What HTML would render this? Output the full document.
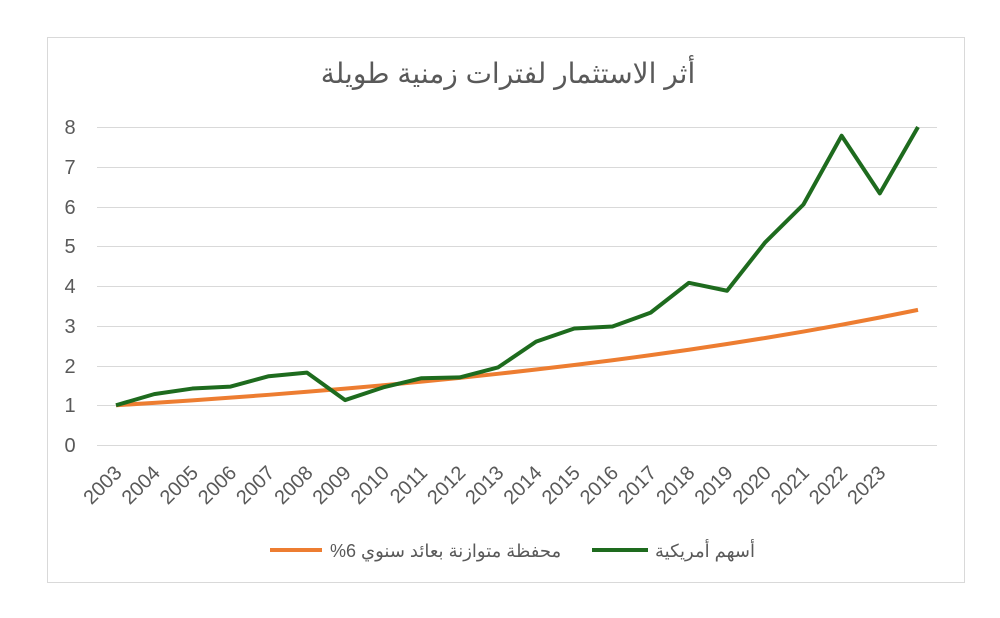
<!DOCTYPE html>
<html><head><meta charset="utf-8"><style>body{margin:0;background:#fff}</style></head><body>
<svg width="1000" height="613" xmlns="http://www.w3.org/2000/svg" font-family="Liberation Sans, DejaVu Sans, sans-serif">
<rect x="47.5" y="37.5" width="917" height="545" fill="#fff" stroke="#d9d9d9"/>
<text x="508" y="83" text-anchor="middle" font-size="28" fill="#595959">أثر الاستثمار لفترات زمنية طويلة</text>
<g stroke="#d9d9d9" stroke-width="1">
<line x1="97" x2="937" y1="445.5" y2="445.5"/><line x1="97" x2="937" y1="405.5" y2="405.5"/>
<line x1="97" x2="937" y1="366.5" y2="366.5"/><line x1="97" x2="937" y1="326.5" y2="326.5"/>
<line x1="97" x2="937" y1="286.5" y2="286.5"/><line x1="97" x2="937" y1="246.5" y2="246.5"/>
<line x1="97" x2="937" y1="207.5" y2="207.5"/><line x1="97" x2="937" y1="167.5" y2="167.5"/>
<line x1="97" x2="937" y1="127.5" y2="127.5"/>
</g>
<g font-size="20" fill="#595959" text-anchor="middle">
<text x="70" y="452">0</text><text x="70" y="412">1</text><text x="70" y="373">2</text>
<text x="70" y="333">3</text><text x="70" y="293">4</text><text x="70" y="253">5</text>
<text x="70" y="214">6</text><text x="70" y="174">7</text><text x="70" y="134">8</text>
</g>
<g font-size="20" fill="#595959" text-anchor="end" id="xl"></g>
<polyline id="o" fill="none" stroke="#ed7d31" stroke-width="4" stroke-linejoin="round"/>
<polyline id="g" fill="none" stroke="#1e6b1e" stroke-width="4" stroke-linejoin="round"/>
<line x1="270" x2="322" y1="550" y2="550" stroke="#ed7d31" stroke-width="4"/>
<text x="330" y="557" font-size="18" fill="#595959" direction="rtl" text-anchor="end">محفظة متوازنة بعائد سنوي 6%</text>
<line x1="592" x2="648" y1="550" y2="550" stroke="#1e6b1e" stroke-width="4"/>
<text x="655" y="557" font-size="18" fill="#595959" direction="rtl" text-anchor="end">أسهم أمريكية</text>
</svg>
<script>
var g=[1,1.28,1.42,1.47,1.73,1.82,1.13,1.45,1.68,1.70,1.95,2.6,2.93,2.98,3.33,4.08,3.88,5.1,6.05,7.78,6.33,8.0];
var X=i=>116+i*802/21,Y=v=>445-v*39.75;
var gp=[],op=[];
for(var i=0;i<22;i++){gp.push(X(i)+","+Y(g[i]));op.push(X(i)+","+Y(Math.pow(1.06,i)));}
document.getElementById('g').setAttribute('points',gp.join(' '));
document.getElementById('o').setAttribute('points',op.join(' '));
var xl=document.getElementById('xl'),h='';
for(var i=0;i<21;i++){var x=X(i)+7,y=474;h+='<text x="'+x+'" y="'+y+'" transform="rotate(-45 '+x+' '+y+')">'+(2003+i)+'</text>';}
xl.innerHTML=h;
</script>
</body></html>
